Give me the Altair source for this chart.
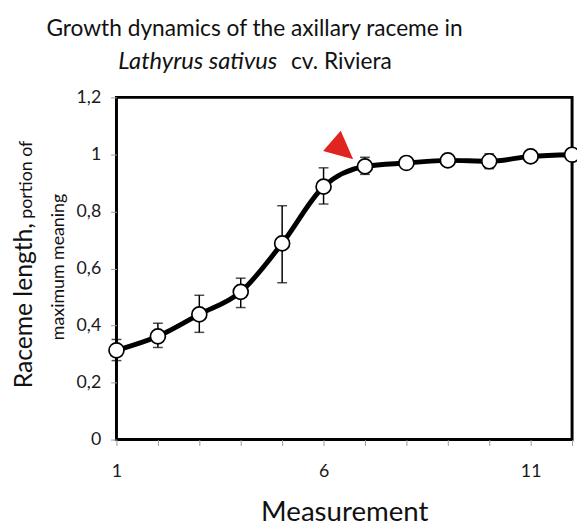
import altair as alt
import pandas as pd

# ---- data ----
measurement = [1, 2, 3, 4, 5, 6, 7, 8, 9, 10, 11, 12]
mean_len = [0.313, 0.362, 0.439, 0.518, 0.688, 0.887, 0.958, 0.970, 0.979, 0.976, 0.993, 0.999]
err_low = [0.277, 0.323, 0.376, 0.463, 0.550, 0.826, 0.930, 0.955, 0.965, 0.950, 0.980, 0.990]
err_high = [0.351, 0.408, 0.506, 0.566, 0.820, 0.953, 0.990, 0.985, 0.993, 1.002, 1.006, 1.008]
x_tick_values = list(range(1, 13))
x_tick_labels = [1, 6, 11]
y_tick_values = [0, 0.2, 0.4, 0.6, 0.8, 1.0, 1.2]
arrow_x = [6.446]
arrow_y = [1.017]

title_line1 = ["Growth dynamics of the axillary raceme in"]
title_species = ["Lathyrus sativus"]
title_cultivar = ["cv. Riviera"]
ytitle_big = ["Raceme length,"]
ytitle_small = ["portion of"]
ytitle_line2 = ["maximum meaning"]

FONT = "Lato"

df = pd.DataFrame({"m": measurement, "v": mean_len, "lo": err_low, "hi": err_high})
arrow_df = pd.DataFrame({"x": arrow_x, "y": arrow_y})

label_expr = "indexof([" + ",".join(str(v) for v in x_tick_labels) + "], datum.value) >= 0 ? datum.label : ''"

xenc = alt.X(
    "m:Q",
    scale=alt.Scale(domain=[1, 12], nice=False, zero=False),
    axis=alt.Axis(
        values=x_tick_values, labelExpr=label_expr, grid=False, domain=False,
        tickColor="#9a9a9a", tickSize=6, tickWidth=1, labelFontSize=18, labelFont=FONT,
        labelColor="#1a1a1a", labelPadding=17, labelFlush=False,
        title="Measurement", titleFontSize=28, titleFont=FONT, titleFontWeight="normal",
        titleColor="#111", titleBaseline="alphabetic", titleY=82,
    ),
)
yscale = alt.Scale(domain=[0, 1.2], nice=False, zero=True)
yenc = alt.Y(
    "v:Q", scale=yscale,
    axis=alt.Axis(
        values=y_tick_values, format=".1~f", labelExpr="replace(datum.label, '.', ',')",
        grid=False, domain=False, tickColor="#9a9a9a", tickSize=6, tickWidth=1,
        labelFontSize=18, labelFont=FONT, labelColor="#1a1a1a", labelPadding=10, title=None,
    ),
)

base = alt.Chart(df)

line = base.mark_line(interpolate="monotone", color="black", strokeWidth=5).encode(x=xenc, y=yenc)
rules = base.mark_rule(color="black", strokeWidth=1.5).encode(
    x="m:Q", y=alt.Y("lo:Q", scale=yscale), y2="hi:Q"
)
cap_lo = base.mark_tick(orient="horizontal", color="black", size=10, thickness=1.5).encode(
    x="m:Q", y=alt.Y("lo:Q", scale=yscale)
)
cap_hi = base.mark_tick(orient="horizontal", color="black", size=10, thickness=1.5).encode(
    x="m:Q", y=alt.Y("hi:Q", scale=yscale)
)
points = base.mark_point(
    shape="circle", filled=True, fill="white", stroke="black", strokeWidth=1.7, size=230, opacity=1
).encode(x="m:Q", y=alt.Y("v:Q", scale=yscale))

arrow = alt.Chart(arrow_df).mark_point(
    shape="M-1,1 L0,-1.1 L1,1 Z", filled=True, color="#e02520", size=740, angle=131, opacity=1
).encode(x="x:Q", y=alt.Y("y:Q", scale=yscale))


def txt(values, x, y, size, align="center", angle=0, style="normal"):
    return alt.Chart(pd.DataFrame({"t": values})).mark_text(
        font=FONT, fontSize=size, align=align, baseline="alphabetic", angle=angle,
        fontStyle=style, color="#111",
    ).encode(text="t:N", x=alt.value(x), y=alt.value(y))


texts = [
    txt(title_line1, 140, -62, 23),
    txt(title_species, 163, -29, 24, align="right", style="italic"),
    txt(title_cultivar, 177, -29, 23, align="left"),
    txt(ytitle_big, -86, 295, 25, align="left", angle=270),
    txt(ytitle_small, -86, 123, 18, align="left", angle=270),
    txt(ytitle_line2, -53, 172, 18, align="center", angle=270),
]

chart = alt.layer(rules, cap_lo, cap_hi, line, points, arrow, *texts).properties(
    width=462, height=347,
    autosize=alt.AutoSizeParams(type="none"),
    padding={"left": 110, "top": 87, "right": 5, "bottom": 84},
).configure(background="white").configure_view(stroke="black", strokeWidth=3)

chart.save("out.html", embed_options={"renderer": "svg", "actions": False})
